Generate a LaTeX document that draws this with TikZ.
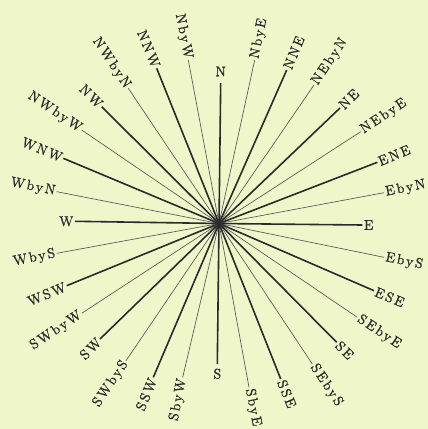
\documentclass[tikz,border=0pt]{standalone}
\usepackage{fontspec}
\setmainfont{Latin Modern Roman}[LetterSpace=15,FakeBold=1.2]
\definecolor{bg}{HTML}{EFF6C9}
\definecolor{ink}{HTML}{2A2A2A}
\begin{document}
\begin{tikzpicture}[x=1pt,y=-1pt,
  lab/.style={font=\fontsize{14}{14}\selectfont, text=ink, inner sep=1.5pt},
  thickray/.style={draw=ink, line width=1.6pt},
  thinray/.style={draw=ink!80, line width=0.65pt}]
\fill[bg] (0,0) rectangle (428,429);
\useasboundingbox (0,0) rectangle (428,429);
\coordinate (C) at (219,223.5);
% east half: labels read outward
\foreach \n/\x/\y/\r/\t in {
  NbyE/254.7/60/78.75/thinray,
  NNE/286.7/70/67.5/thickray,
  NEbyN/314/85/56.25/thinray,
  NE/340/108/45/thickray,
  NEbyE/360.7/131.7/33.75/thinray,
  ENE/377.3/162.3/22.5/thickray,
  EbyN/384/192.7/11.25/thinray,
  E/362.3/225/0/thickray,
  EbyS/384/257.3/-11.25/thinray,
  ESE/374/290.7/-22.5/thickray,
  SEbyE/357.3/317.3/-33.75/thinray,
  SE/336.7/342.3/-45/thickray,
  SEbyS/312.3/364/-56.25/thinray,
  SSE/280.7/379/-67.5/thickray,
  SbyE/249/387.3/-78.75/thinray}{
  \coordinate (e\n) at (\x,\y);
  \draw[\t] (C) -- (e\n);
  \node[lab, anchor=west, rotate=\r] (\n) at (e\n) {\n};
}
% west half: labels read inward
\foreach \n/\x/\y/\r/\t in {
  SbyW/182.7/377.3/78.75/thinray,
  SSW/153.3/377.3/67.5/thickray,
  SWbyS/126/360.7/56.25/thinray,
  SW/100/339/45/thickray,
  SWbyW/81.7/313.3/33.75/thinray,
  WSW/66.7/285.7/22.5/thickray,
  WbyS/56.7/253.3/11.25/thinray,
  W/75/221.3/0/thickray,
  WbyN/56.7/191.7/-11.25/thinray,
  WNW/63.3/158.3/-22.5/thickray,
  NWbyW/81.7/130/-33.75/thinray,
  NW/101.7/106.7/-45/thickray,
  NWbyN/128.3/88.3/-56.25/thinray,
  NNW/156.7/68.3/-67.5/thickray,
  NbyW/188.3/60/-78.75/thinray}{
  \coordinate (e\n) at (\x,\y);
  \draw[\t] (C) -- (e\n);
  \node[lab, anchor=east, rotate=\r] (\n) at (e\n) {\n};
}
% north and south
\coordinate (eN) at (220.7,83);
\coordinate (eS) at (217.3,364);
\draw[thickray] (C) -- (eN);
\draw[thickray] (C) -- (eS);
\node[lab, anchor=south, yshift=5pt] (N) at (eN) {N};
\node[lab, anchor=north, yshift=-3pt] (S) at (eS) {S};
\end{tikzpicture}
\end{document}
